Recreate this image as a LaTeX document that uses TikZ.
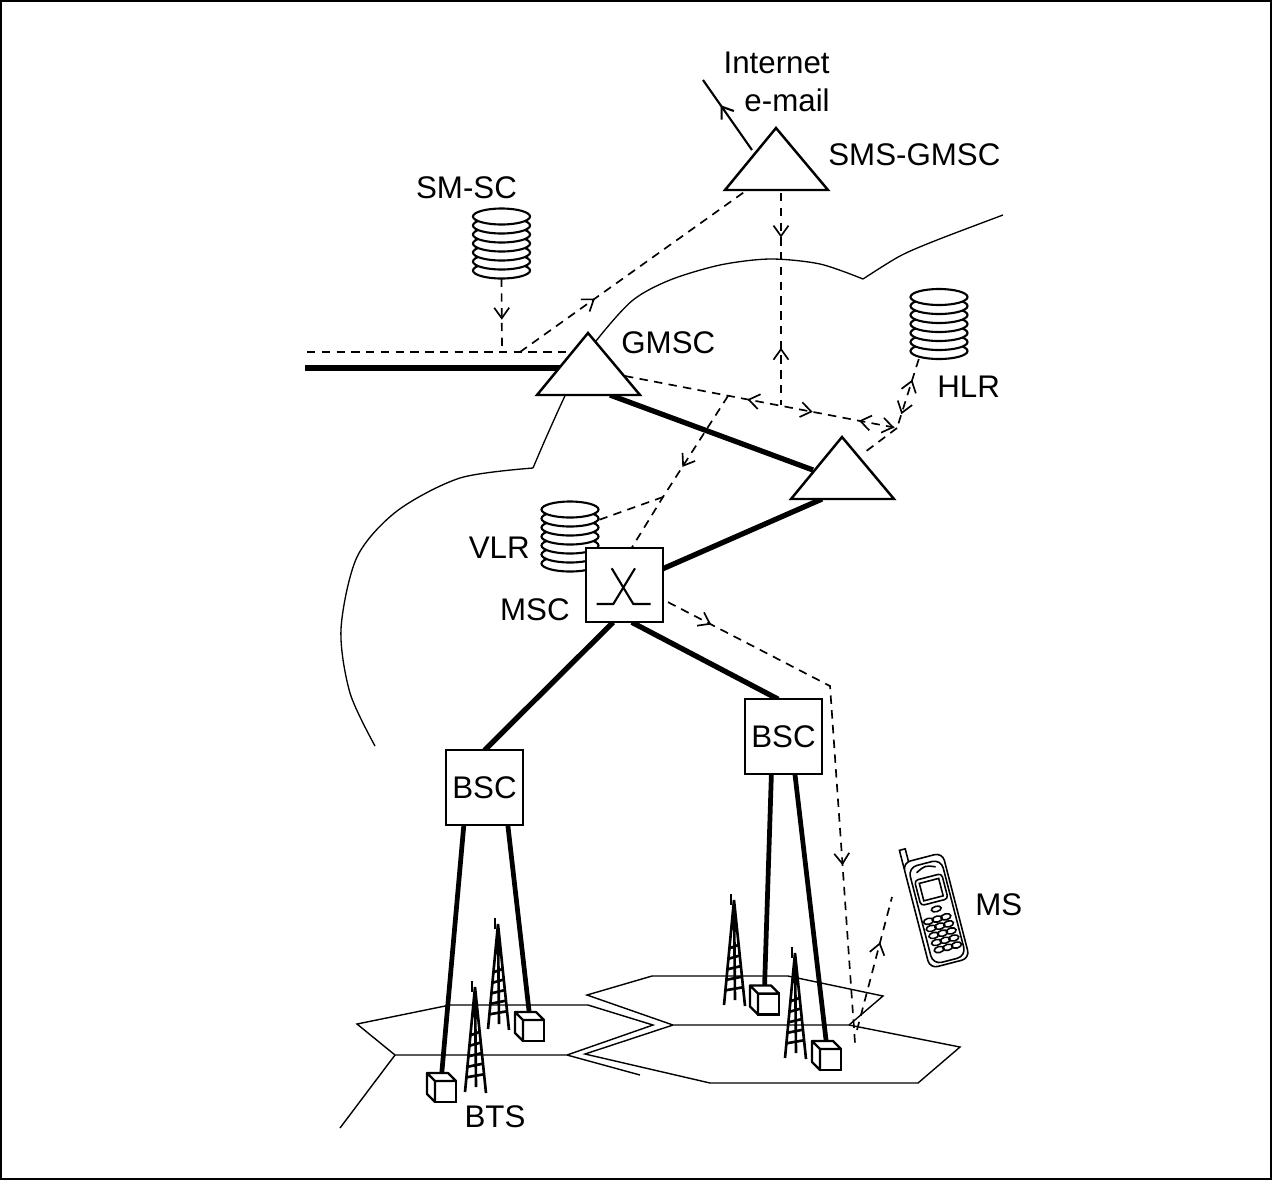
\documentclass[tikz,border=0pt]{standalone}
\usepackage{fontspec}
\setmainfont{Liberation Sans}
\usetikzlibrary{arrows.meta,decorations.markings,backgrounds}

\tikzset{
  >={Straight Barb[length=2.1mm,width=3mm]},
  lbl/.style={inner sep=0pt,font=\fontsize{17.8}{21.5}\selectfont},
  trunk/.style={line width=3pt},
  leg/.style={line width=2.7pt},
  sig/.style={line width=0.95pt,dash pattern=on 4.8pt off 3.6pt},
  cell/.style={line width=0.8pt},
  disk/.style={line width=1.2pt,fill=white},
  ctrl/.style={draw,line width=1.2pt,fill=white,inner sep=0pt,outer sep=0pt,
    minimum width=15.4mm,minimum height=14.9mm,font=\fontsize{17.8}{21.5}\selectfont},
  btsbox/.style={draw,line width=1.3pt,fill=white,inner sep=0pt,outer sep=0pt,minimum size=4.2mm},
  fwd/.style={postaction={decorate,decoration={markings,
    mark=at position #1 with {\arrow{>}}}}},
  bwd/.style={postaction={decorate,decoration={markings,
    mark=at position #1 with {\arrowreversed{>}}}}},
}

% stack of disks: name, centre x, centre y
\newcommand{\dbstack}[3]{%
  \foreach \k in {6,5,...,0}
    \draw[disk] (#2,{#3-27+\k*9}) ellipse (5.7mm and 1.6mm);
  \node[inner sep=0pt,outer sep=0pt,minimum width=11.4mm,minimum height=14mm] (#1) at (#2,#3) {};}

% exchange triangle: name, apex x, apex y
\newcommand{\exch}[3]{%
  \draw[line width=1.4pt,fill=white] (#2,#3) -- ++(52,62) -- ++(-103,0) -- cycle;
  \coordinate (#1) at (#2,#3);}

% lattice mast, apex at x y
\newcommand{\mast}[2]{%
  \draw[line width=1.3pt] (#1-3,#2-6) -- (#1-3,#2+5);
  \draw[line width=1.5pt] (#1-10,#2+105) -- (#1,#2) -- (#1+11,#2+106)
    (#1,#2) -- (#1+1,#2+100);
  \foreach \q in {0.46,0.56,0.66,0.76,0.86}
    \draw[line width=1.5pt] ({#1-10*\q},{#2+105*\q}) -- ({#1+11*\q},{#2+106*\q-4});}

% transceiver cube: name, front face centre
\newcommand{\bts}[3]{%
  \node[btsbox] (#1) at (#2,#3) {};
  \draw[line width=1.3pt,fill=white,line join=round]
    (#1.north west) -- ++(-8,-8) -- ++(21,0) -- (#1.north east) -- cycle
    (#1.north west) -- ++(-8,-8) -- ++(0,21) -- (#1.south west) -- cycle;}

\begin{document}
\begin{tikzpicture}[x=0.2mm,y=-0.2mm]
\useasboundingbox (0,0) rectangle (1272,1180);
\draw[line width=0.7pt] (1,1) rectangle (1271,1179);

% exchanges
\exch{sms}{776}{128}
\exch{gmsc}{588}{333}
\exch{vgw}{842}{437}

% registers
\dbstack{smsc}{501.5}{243.5}
\dbstack{hlr}{939}{324}
\dbstack{vlr}{570}{536.5}

% switching centre and controllers
\node[ctrl] (msc) at (624.5,585) {};
\begin{scope}[shift={(msc.center)},line width=1.2pt]
  \draw (-27.8,19) -- (-11.2,19) -- (10.5,-16.7);
  \draw (-12.8,-16.7) -- (8.8,19) -- (26.2,19);
\end{scope}
\node[ctrl] (bscl) at (484.5,787.5) {BSC};
\node[ctrl] (bscr) at (783.5,736.5) {BSC};

% masts and transceivers
\mast{475}{987}
\mast{498}{924}
\mast{734}{900}
\mast{795}{953}
\bts{bts1}{445.5}{1091.5}
\bts{bts2}{533.5}{1030.5}
\bts{bts3}{768.5}{1004}
\bts{bts4}{830.5}{1059.5}

% handset
\begin{scope}[shift={(936,908)},rotate=14.5,line width=0.9pt]
  \draw[fill=white] (-21,-65) rectangle (-15,-46);
  \draw[fill=white,rounded corners=1.6mm] (-21,-52) rectangle (20,57);
  \draw[rounded corners=1.8mm] (-17,-46) rectangle (17,54);
  \draw (-10,-39) .. controls (0,-44) .. (10,-40);
  \draw[rounded corners=0.7mm] (-14,-32) rectangle (14,-6);
  \draw (-10,-28) rectangle (10,-10);
  \draw (0,1) ellipse (1mm and 0.55mm);
  \foreach \kr in {0,...,4}
    \foreach \kc in {-1,0,1}
      \draw ({\kc*9+(\kr-2)*0.8},{11+\kr*7.5}) ellipse (1mm and 0.6mm);
\end{scope}

% labels
\node[lbl,anchor=north east,align=right] (inettxt) at (830,52) {Internet\\e-mail};
\node[lbl,anchor=base west] (smslbl) at (828,165) {SMS-GMSC};
\node[lbl,anchor=base] (smsclbl) at (466.5,198) {SM-SC};
\node[lbl,anchor=base west] (gmsclbl) at (621,353) {GMSC};
\node[lbl,anchor=base west] (hlrlbl) at (937,397) {HLR};
\node[lbl,anchor=base east] (vlrlbl) at (530,558) {VLR};
\node[lbl,anchor=base east] (msclbl) at (570,620) {MSC};
\node[lbl,anchor=base] (btslbl) at (495,1127) {BTS};
\node[lbl,anchor=base west] (mslbl) at (975,915) {MS};

\begin{pgfonlayer}{background}
% network boundary
\draw[line width=0.75pt] plot[smooth] coordinates {(375,746) (350,693) (341,629) (357,557) (397,511) (460,478) (533,468)};
\draw[line width=0.75pt] plot[smooth] coordinates {(533,468) (545,440) (563,400) (580,365) (600,336) (633,300) (670,280) (720,265) (770,259) (820,264) (863,279)};
\draw[line width=0.75pt] plot[smooth] coordinates {(863,279) (900,256) (937,240) (1003,215)};

% cells
\draw[cell] (357,1024) -- (450,1005) -- (588,1005) -- (653,1025) -- (567,1055) -- (395,1055) -- cycle;
\draw[cell] (395,1055) -- (340,1128);
\draw[cell] (567,1055) -- (640,1075);
\draw[cell] (587,995) -- (652,976) -- (788,976) -- (883,996) -- (849,1025) -- (673,1025) -- cycle;
\draw[cell] (673,1025) -- (585,1054) -- (710,1083) -- (918,1083) -- (960,1047) -- (849,1025);

% free ends and junctions
\coordinate (ss7) at (307,352);
\coordinate (pstn) at (305,368);
\coordinate (inet) at (703,80);
\coordinate (j0) at (502,352);
\coordinate (j1) at (520,352);
\coordinate (j2) at (781,405);
\coordinate (j3) at (728,396);
\coordinate (j4) at (663,497);
\coordinate (hc) at (897,428);
\coordinate (k1) at (830,686);
\coordinate (k2) at (855,1043);
\coordinate (k3) at (857,1030);
\coordinate (k4) at (892,897);

% trunks
\draw[trunk] (pstn) -- ([shift={(-28,35)}]gmsc);
\draw[trunk] ([shift={(22,62)}]gmsc) -- ([shift={(-29,33)}]vgw);
\draw[trunk] ([shift={(-20,62)}]vgw) -- (msc.23);
\draw[trunk] (msc.-107) -- (bscl.north);
\draw[trunk] (msc.-79) -- (bscr.98);
\draw[leg] (bscl.-119) -- ([shift={(-4,-5)}]bts1.north);
\draw[leg] (bscl.-58) -- ([shift={(-4,-5)}]bts2.north);
\draw[leg] (bscr.-108) -- ([shift={(-4,-5)}]bts3.north);
\draw[leg] (bscr.-73) -- ([shift={(-4,-5)}]bts4.north);

% signalling
\draw[line width=1.2pt,fwd=0.64] ([shift={(-24,22)}]sms) -- (inet);
\draw[sig] (ss7) -- ([shift={(-17,19)}]gmsc);
\draw[sig,fwd=0.56] (smsc.south) -- (j0);
\draw[sig,fwd=0.33] (j1) -- ([shift={(-29,62)}]sms);
\draw[sig,fwd=0.21,bwd=0.73] ([shift={(5,65)}]sms) -- (j2);
\draw[sig,bwd=0.45,fwd=0.69,bwd=0.86,fwd=0.99] ([shift={(37,43)}]gmsc) -- (hc);
\draw[sig,bwd=0.3,fwd=0.8] (hlr.-120) -- (hc);
\draw[sig] (hc) -- ([shift={(23,15)}]vgw);
\draw[sig,fwd=0.47] (j3) -- (j4) -- (msc.79);
\draw[sig] (j4) -- (vlr.30);
\draw[sig,fwd=0.09,fwd=0.67] ([xshift=1mm]msc.-24) -- (k1) -- (k2);
\draw[sig,fwd=0.66] (k3) -- (k4);
\end{pgfonlayer}
\end{tikzpicture}
\end{document}
